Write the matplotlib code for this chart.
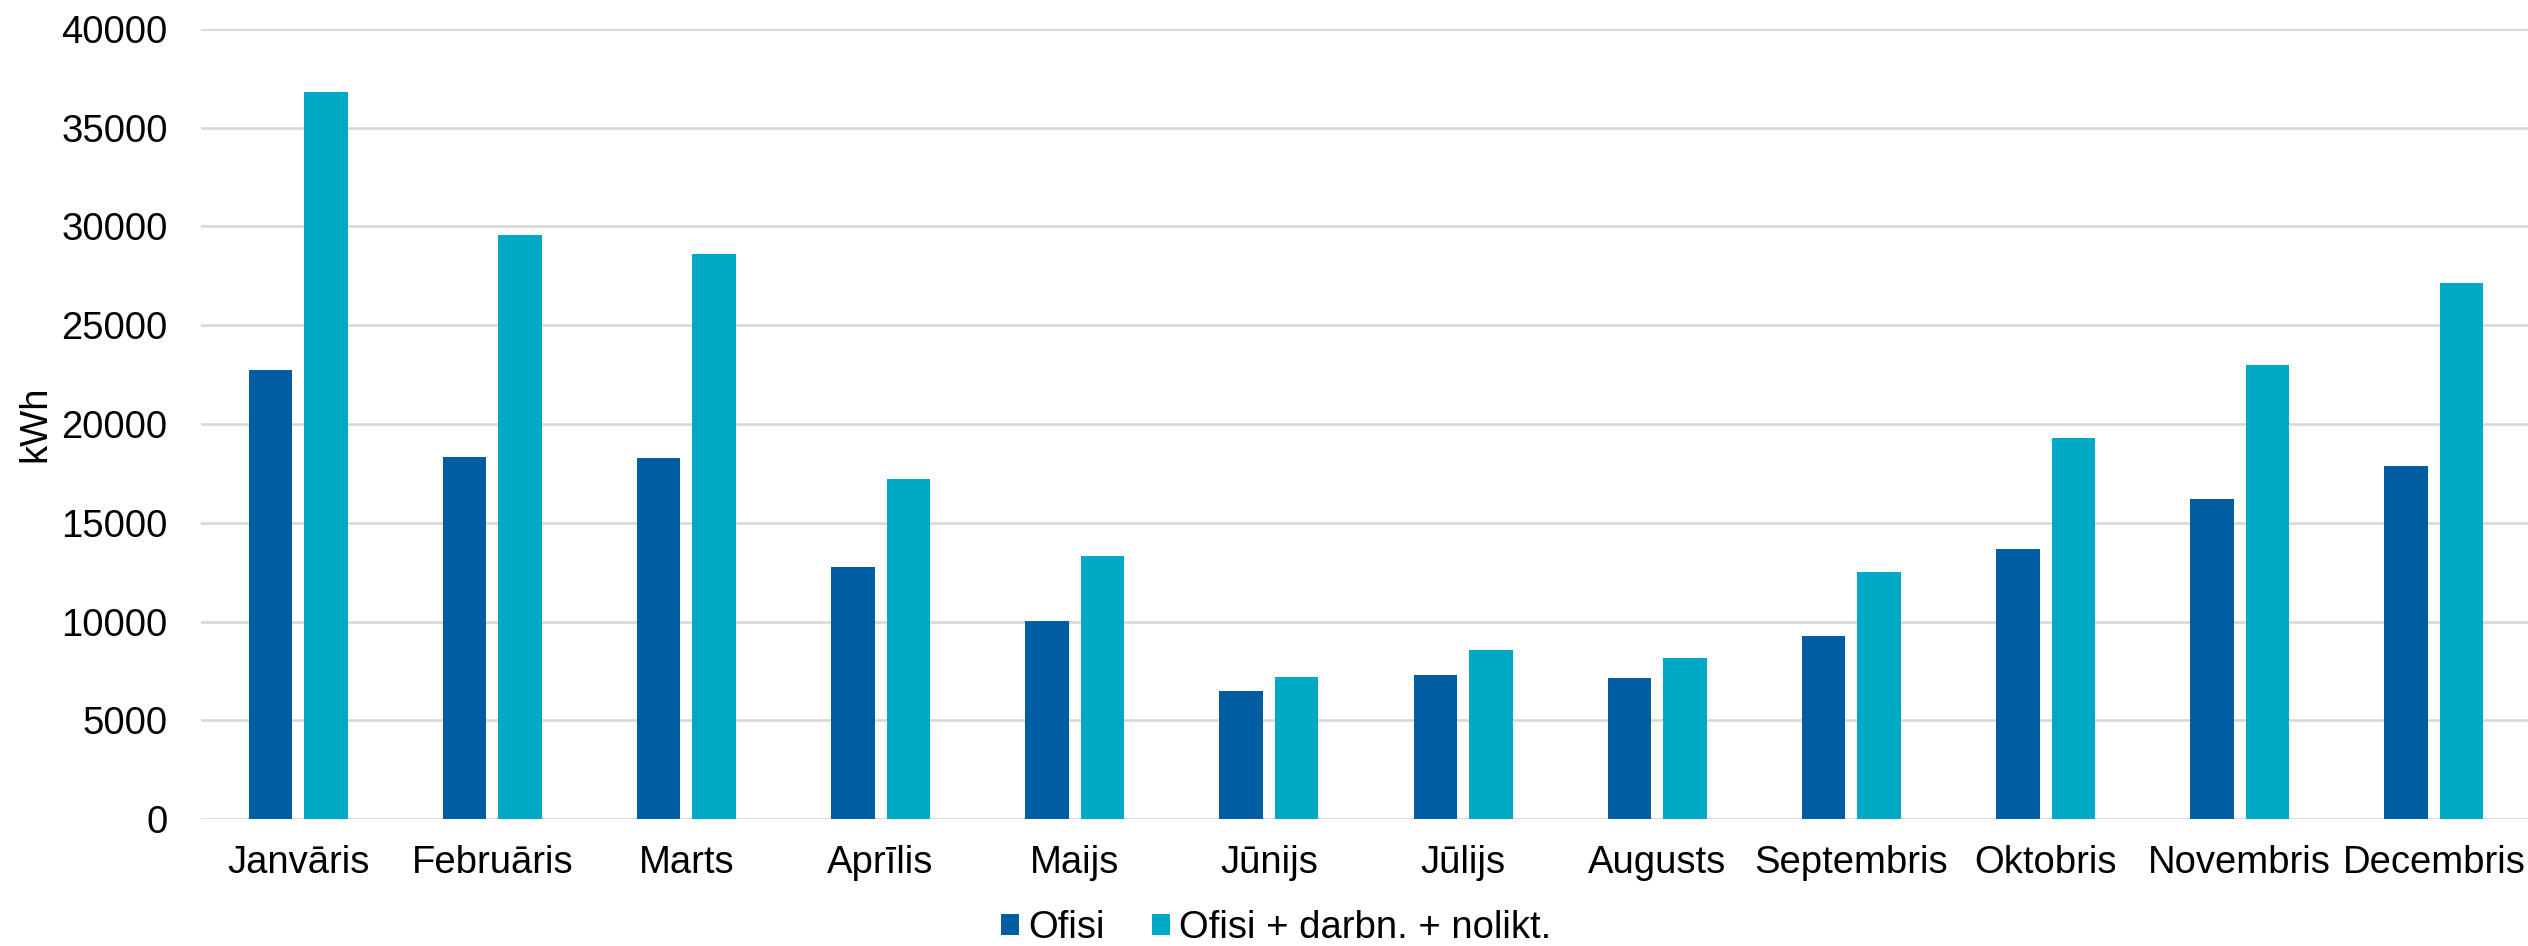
import numpy as np
import matplotlib
matplotlib.use('Agg')
import matplotlib.pyplot as plt

# dati (kWh pa mēnešiem)
months = ['Janvāris', 'Februāris', 'Marts', 'Aprīlis', 'Maijs', 'Jūnijs',
          'Jūlijs', 'Augusts', 'Septembris', 'Oktobris', 'Novembris', 'Decembris']
ofisi = [22730, 18310, 18260, 12760, 10010, 6460, 7310, 7160, 9290, 13660, 16180, 17890]
ofisi_visi = [36790, 29560, 28630, 17200, 13330, 7170, 8560, 8170, 12530, 19280, 23000, 27140]
series_names = ['Ofisi', 'Ofisi + darbn. + nolikt.']
yticks = [0, 5000, 10000, 15000, 20000, 25000, 30000, 35000, 40000]

plt.rcParams['font.family'] = ['Liberation Sans', 'DejaVu Sans']
fs = 27.5

fig = plt.figure(figsize=(25.28, 9.46), dpi=100)
ax = fig.add_axes([201 / 2528, 127 / 946, 2330 / 2528, 790 / 946])

x = np.arange(len(months))
w = 0.224
off = 0.143
ax.bar(x - off, ofisi, width=w, color='#005DA1', label=series_names[0], zorder=3)
ax.bar(x + off, ofisi_visi, width=w, color='#00A9C5', label=series_names[1], zorder=3)

ax.set_xlim(-0.5, len(months) - 0.5)
ax.set_ylim(0, 40000)
ax.set_yticks(yticks)
ax.set_yticklabels([str(v) for v in yticks])
ax.set_xticks(x)
ax.set_xticklabels(months)
ax.tick_params(axis='both', length=0, labelsize=fs)
ax.tick_params(axis='y', pad=24)
ax.tick_params(axis='x', pad=19)
ax.grid(axis='y', color='#D9D9D9', linewidth=2, zorder=0)
for s in ax.spines.values():
    s.set_visible(False)

# y ass nosaukums
fig.text(35 / 2528, 1 - 424 / 946, 'kWh', rotation=90, ha='center', va='center', fontsize=fs)

fig.legend(loc='center', bbox_to_anchor=(1276 / 2528, 1 - 928 / 946), ncol=2,
           frameon=False, fontsize=fs, handlelength=0.485, handleheight=0.485,
           handletextpad=0.235, columnspacing=1.23, borderpad=0, borderaxespad=0)

fig.savefig('out.png', dpi=100)
